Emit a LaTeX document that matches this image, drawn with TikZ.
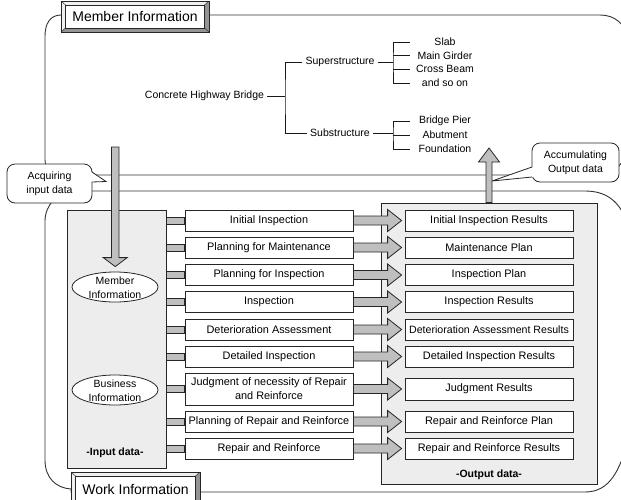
\documentclass[tikz,border=0pt]{standalone}
\usepackage{fontspec}
\setmainfont{Liberation Sans}
\usetikzlibrary{calc,shapes.geometric}

\tikzset{
  ink/.style={draw=black!85, line width=0.8pt},
  frameline/.style={draw=black!80, line width=0.9pt},
  areabox/.style={ink, fill=black!7, inner sep=0pt},
  procbox/.style={ink, fill=white, minimum width=168pt, minimum height=21pt, inner sep=1pt, align=center,
    font=\fontsize{10.9}{14}\selectfont},
  treetext/.style={inner sep=3pt},
  treeitem/.style={inner sep=0pt, minimum width=70pt, align=center},
  treeline/.style={draw=black!90, line width=0.7pt},
  infoellipse/.style={ellipse, ink, fill=white, minimum width=86pt, minimum height=30pt, inner sep=0pt},
  calloutbox/.style={ink, fill=white, rounded corners=8pt, inner sep=0pt, align=center},
  blockarrow/.style={ink, fill=black!25, line join=miter},
  bevellight/.style={fill=black!6},
  beveldark/.style={fill=black!42},
  titletext/.style={font=\fontsize{14}{16}\selectfont, inner sep=0pt},
  arealabel/.style={font=\bfseries\fontsize{10.5}{14}\selectfont},
}

% bevelled title plate: name, x1, y1, x2, y2, text
\newcommand\bevelplate[6]{%
  \fill[bevellight] (#2,#3) -- (#4,#3) -- (#4-4.5,#3+4) -- (#2+4.5,#3+4) -- (#2+4.5,#5-4) -- (#2,#5) -- cycle;
  \fill[beveldark] (#4,#3) -- (#4,#5) -- (#2,#5) -- (#2+4.5,#5-4) -- (#4-4.5,#5-4) -- (#4-4.5,#3+4) -- cycle;
  \draw[black!80, line width=0.5pt] (#2,#3) -- (#2+4.5,#3+4) (#4,#3) -- (#4-4.5,#3+4)
       (#2,#5) -- (#2+4.5,#5-4) (#4,#5) -- (#4-4.5,#5-4);
  \draw[ink] (#2,#3) rectangle (#4,#5);
  \filldraw[ink, fill=white] (#2+4.5,#3+4) rectangle (#4-4.5,#5-4);
  \node[titletext] (#1) at ({(#2+#4)/2},{(#3+#5)/2}) {#6};
}

% grey feed bar from the input area into a task box
\newcommand\feedbar[2]{%
  \path[blockarrow] let \p1=(#1.east), \p2=(#2.west) in
    (\x1,\y2+3.5pt) rectangle (\x2,\y2-3.5pt);}

% block arrow from a task box to its result box
\newcommand\resultarrow[2]{%
  \path[blockarrow] let \p1=(#1.east), \p2=(#2.west) in
    (\x1,\y1+4.5pt) -- (\x2-17pt,\y1+4.5pt) -- (\x2-17pt,\y1+11pt) -- (\x2-3pt,\y1)
    -- (\x2-17pt,\y1-11pt) -- (\x2-17pt,\y1-4.5pt) -- (\x1,\y1-4.5pt) -- cycle;}

\begin{document}
\begin{tikzpicture}[x=1pt, y=-1pt, font=\fontsize{10.5}{14}\selectfont]
\useasboundingbox (0,0) rectangle (621,499);
\clip (0,0) rectangle (621,499);

% ---------- outer frames ----------
\draw[frameline] (61,15) -- (600,15) .. controls (615,15) and (625,24) .. (630,40)
  -- (630,140) .. controls (625,165) and (615,175) .. (595,175)
  -- (60,175) .. controls (52,175) and (45,168) .. (45,160)
  -- (45,36) .. controls (45,24) and (50,15) .. (61,15);
\draw[frameline] (75,191) -- (585,191) .. controls (605,191) and (620,200) .. (628,225)
  -- (628,440) .. controls (620,470) and (610,492) .. (585,492)
  -- (71,492) -- (71,489) .. controls (56,488) and (45,478) .. (45,460)
  -- (45,221) .. controls (45,205) and (58,191) .. (75,191);

% ---------- member tree ----------
\node[treetext] (chb) at (204.5,96) {Concrete Highway Bridge};
\node[treetext] (sup) at (340,62) {Superstructure};
\node[treetext] (sub) at (340,133) {Substructure};
\coordinate (j1) at (285,96);
\coordinate (j2) at (393,62);
\coordinate (j3) at (393,133);
\draw[treeline] (chb.east) -- (j1);
\draw[treeline] (sup.west) -| (j1) |- (sub.west);
\draw[treeline] (sup.east) -- (j2);
\draw[treeline] (sub.east) -- (j3);

\node[treeitem] (slab) at (445,42) {Slab};
\node[treeitem] (girder) at (445,55.5) {Main Girder};
\node[treeitem] (cross) at (445,69) {Cross Beam};
\node[treeitem] (soon) at (445,83) {and so on};
\draw[treeline] (slab.west) -| (j2) |- (soon.west);
\draw[treeline] (girder.west) -- (girder.west -| j2);
\draw[treeline] (cross.west) -- (cross.west -| j2);

\node[treeitem] (pier) at (445,121) {Bridge Pier};
\node[treeitem] (abut) at (445,135) {Abutment};
\node[treeitem] (found) at (445,149) {Foundation};
\draw[treeline] (pier.west) -| (j3) |- (found.west);
\draw[treeline] (abut.west) -- (abut.west -| j3);

% ---------- callouts ----------
\node[calloutbox, minimum width=85pt, minimum height=39pt] (acq) at (49.5,183.5) {Acquiring\\input data};
\coordinate (acqtip) at (106,181.5);
\fill[white] (91,172) -- (acqtip) -- (91,182) -- cycle;
\draw[ink] (92,172) -- (acqtip) -- (92,182);

\node[calloutbox, minimum width=87pt, minimum height=39pt] (accbox) at (575.5,162.5) {Accumulating\\Output data};
\coordinate (acctip) at (492,181);
\fill[white] (533,167) -- (acctip) -- (533,177) -- cycle;
\draw[ink] (532,167) -- (acctip) -- (532,177);

% ---------- data areas ----------
\node[areabox, minimum width=99pt, minimum height=258pt] (inarea) at (116.5,339) {};
\node[areabox, minimum width=216pt, minimum height=281pt] (outarea) at (489,343.5) {};
\node[arealabel] (inlabel) at (115,453) {-Input data-};
\node[arealabel] (outlabel) at (489,475) {-Output data-};

% ---------- tasks and results ----------
\node[procbox] (p1) at (269,220.5) {Initial Inspection};
\node[procbox] (p2) at (269,247.5) {Planning for Maintenance};
\node[procbox] (p3) at (269,275) {Planning for Inspection};
\node[procbox] (p4) at (269,302) {Inspection};
\node[procbox] (p5) at (269,329.5) {Deterioration Assessment};
\node[procbox] (p6) at (269,356.5) {Detailed Inspection};
\node[procbox, minimum height=32pt] (p7) at (269,389) {Judgment of necessity of Repair\\and Reinforce};
\node[procbox] (p8) at (269,421.5) {Planning of Repair and Reinforce};
\node[procbox] (p9) at (269,448.5) {Repair and Reinforce};

\node[procbox] (r1) at (489,220.5) {Initial Inspection Results};
\node[procbox] (r2) at (489,247.5) {Maintenance Plan};
\node[procbox] (r3) at (489,275) {Inspection Plan};
\node[procbox] (r4) at (489,302) {Inspection Results};
\node[procbox, font=\fontsize{10.6}{14}\selectfont] (r5) at (489,329.5) {Deterioration Assessment Results};
\node[procbox] (r6) at (489,356.5) {Detailed Inspection Results};
\node[procbox, minimum height=22pt] (r7) at (489,389) {Judgment Results};
\node[procbox] (r8) at (489,421.5) {Repair and Reinforce Plan};
\node[procbox] (r9) at (489,448.5) {Repair and Reinforce Results};

\foreach \i in {1,...,9} {
  \feedbar{inarea}{p\i}
  \resultarrow{p\i}{r\i}
}

% ---------- information items in the input area ----------
\node[infoellipse] (mi) at (115,287) {};
\node[align=center, inner sep=0pt] (mitext) at (115,288) {Member\\Information};
\node[infoellipse] (bi) at (115,390) {};
\node[align=center, inner sep=0pt] (bitext) at (115,391) {Business\\Information};

% ---------- acquire / accumulate arrows ----------
\coordinate (acqstart) at (115.25,147);
\path[blockarrow] let \p1=(acqstart), \p2=(mi.north) in
  (\x1-3.75pt,\y1) -- (\x1-3.75pt,\y2+14pt) -- (\x1-12pt,\y2+14pt) -- (\x1,\y2+5pt)
  -- (\x1+12pt,\y2+14pt) -- (\x1+3.75pt,\y2+14pt) -- (\x1+3.75pt,\y1) -- cycle;
\coordinate (accend) at (489,148);
\path[blockarrow] let \p1=(outarea.north), \p2=(accend) in
  (\x1-3pt,\y1) -- (\x1-3pt,\y2-14pt) -- (\x1-10.5pt,\y2-14pt) -- (\x1,\y2)
  -- (\x1+10.5pt,\y2-14pt) -- (\x1+3pt,\y2-14pt) -- (\x1+3pt,\y1) -- cycle;

% ---------- title plates ----------
\bevelplate{memtitle}{61}{1}{209}{32}{Member Information}
\bevelplate{worktitle}{71}{472}{200}{506}{Work Information}
\end{tikzpicture}
\end{document}
